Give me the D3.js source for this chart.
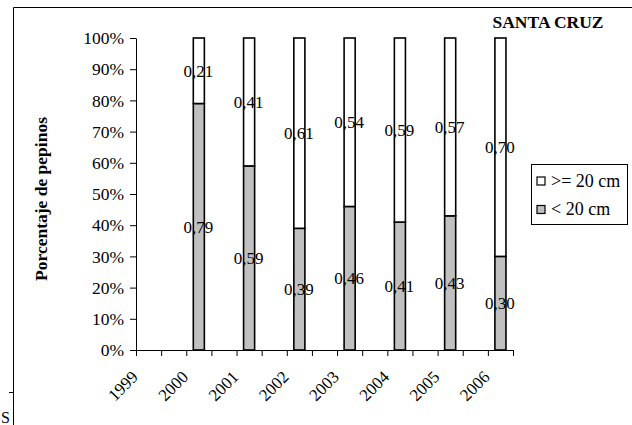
<!DOCTYPE html>
<html>
<head>
<meta charset="utf-8">
<script src="https://cdn.jsdelivr.net/npm/d3@7"></script>
<style>
  html, body { margin: 0; padding: 0; background: #fff; }
  svg { display: block; }
  svg text { font-family: "Times New Roman", "Liberation Serif", Times, serif !important; fill: #000; }
</style>
</head>
<body>
<div id="chart"></div>
<script>
// Share of cucumbers by length class, Santa Cruz, 1999–2006
const years = ["1999", "2000", "2001", "2002", "2003", "2004", "2005", "2006"];
const under20 = [null, 0.79, 0.59, 0.39, 0.46, 0.41, 0.43, 0.30];
const over20  = [null, 0.21, 0.41, 0.61, 0.54, 0.59, 0.57, 0.70];
const seriesNames = ["< 20 cm", ">= 20 cm"];
const seriesColors = ["#c0c0c0", "#ffffff"];
const yTicks = [0, 0.1, 0.2, 0.3, 0.4, 0.5, 0.6, 0.7, 0.8, 0.9, 1.0];

const W = 632, H = 425;
const plot = { left: 136, right: 513, top: 38, bottom: 350 };
const serif = "'Times New Roman', 'Liberation Serif', Times, serif";

const svg = d3.select("#chart").append("svg")
  .attr("width", W).attr("height", H)
  .attr("font-family", serif);

// Frame of the chart area
svg.append("path")
  .attr("d", `M13.5,${H + 2} V7.5 H${W + 2}`)
  .attr("fill", "none").attr("stroke", "#000").attr("stroke-width", 1);
svg.append("line")
  .attr("x1", 9).attr("x2", 13).attr("y1", 392.5).attr("y2", 392.5)
  .attr("stroke", "#000").attr("stroke-width", 1);
svg.append("text")
  .attr("x", 1).attr("y", 423)
  .style("font-size", "16px")
  .text("S");

// Each year occupies two slots: a bar slot and an empty spacer slot
const slotCount = years.length * 2 - 1;
const x = d3.scaleLinear().domain([0, slotCount]).range([plot.left, plot.right]);
const slot = d3.scaleBand()
  .domain(d3.range(slotCount))
  .range([plot.left, plot.right])
  .paddingInner(0.56).paddingOuter(0.28);
const y = d3.scaleLinear().domain([0, 1]).range([plot.bottom, plot.top]);

const rows = years.map((yr, i) => ({ year: yr, idx: i, "< 20 cm": under20[i], ">= 20 cm": over20[i] }))
  .filter(d => d["< 20 cm"] != null);
const stacked = d3.stack().keys(seriesNames)(rows);

// Bars
stacked.forEach((layer, si) => {
  svg.append("g").selectAll("rect")
    .data(layer)
    .join("rect")
    .attr("x", d => slot(d.data.idx * 2))
    .attr("width", slot.bandwidth())
    .attr("y", d => y(d[1]))
    .attr("height", d => y(d[0]) - y(d[1]))
    .attr("fill", seriesColors[si])
    .attr("stroke", "#000")
    .attr("stroke-width", 1.6);
});

// Value labels, centred in each segment
stacked.forEach(layer => {
  svg.append("g").selectAll("text")
    .data(layer)
    .join("text")
    .attr("x", d => slot(d.data.idx * 2) + slot.bandwidth() / 2 - 0.5)
    .attr("y", d => y((d[0] + d[1]) / 2))
    .attr("text-anchor", "middle")
    .attr("dy", "0.35em")
    .style("font-size", "17px")
    .text(d => d3.format(".2f")(d[1] - d[0]).replace(".", ","));
});

// Y axis
const yAxis = d3.axisLeft(y).tickValues(yTicks).tickFormat(d3.format(".0%"))
  .tickSize(6).tickSizeOuter(0);
const gy = svg.append("g").attr("transform", `translate(${plot.left},0)`).call(yAxis)
  .attr("font-family", serif).attr("font-size", 17.5);
gy.select(".domain").attr("stroke", "#000");
gy.selectAll(".tick line").attr("stroke", "#000");
gy.selectAll(".tick text").attr("x", -12);

// X axis: ticks on every slot boundary, year labels on every second one
const xAxis = d3.axisBottom(x).tickValues(d3.range(slotCount + 1))
  .tickFormat("").tickSize(6).tickSizeOuter(0);
const gx = svg.append("g").attr("transform", `translate(0,${plot.bottom})`).call(xAxis)
  .attr("font-family", serif);
gx.select(".domain").attr("stroke", "#000");
gx.selectAll(".tick line").attr("stroke", "#000");

svg.append("g").selectAll("text")
  .data(years)
  .join("text")
  .attr("transform", (d, i) => `translate(${x(i * 2) + 3},${plot.bottom + 28}) rotate(-45)`)
  .attr("text-anchor", "end")
  .style("font-size", "17px")
  .text(d => d);

// Axis title
svg.append("text")
  .attr("transform", `translate(47,${(plot.top + plot.bottom) / 2 + 5}) rotate(-90)`)
  .attr("text-anchor", "middle")
  .style("font-size", "17.5px")
  .style("font-weight", "bold")
  .text("Porcentaje de pepinos");

// Chart title
svg.append("text")
  .attr("x", 492.5).attr("y", 27.5)
  .style("font-size", "17.5px")
  .style("font-weight", "bold")
  .text("SANTA CRUZ");

// Legend
const legend = svg.append("g").attr("transform", "translate(531,164)");
legend.append("rect")
  .attr("x", 0.5).attr("y", 0.5).attr("width", 96).attr("height", 60)
  .attr("fill", "#fff").attr("stroke", "#000").attr("stroke-width", 1);
const legendItems = [
  { name: seriesNames[1], color: seriesColors[1] },
  { name: seriesNames[0], color: seriesColors[0] }
];
const li = legend.selectAll("g.item")
  .data(legendItems)
  .join("g")
  .attr("class", "item")
  .attr("transform", (d, i) => `translate(0,${13 + i * 28.5})`);
li.append("rect")
  .attr("x", 6).attr("y", 0).attr("width", 8).attr("height", 8)
  .attr("fill", d => d.color).attr("stroke", "#000").attr("stroke-width", 1.2);
li.append("text")
  .attr("x", 20).attr("y", 9.5)
  .style("font-size", "18px")
  .text(d => d.name);
</script>
</body>
</html>
